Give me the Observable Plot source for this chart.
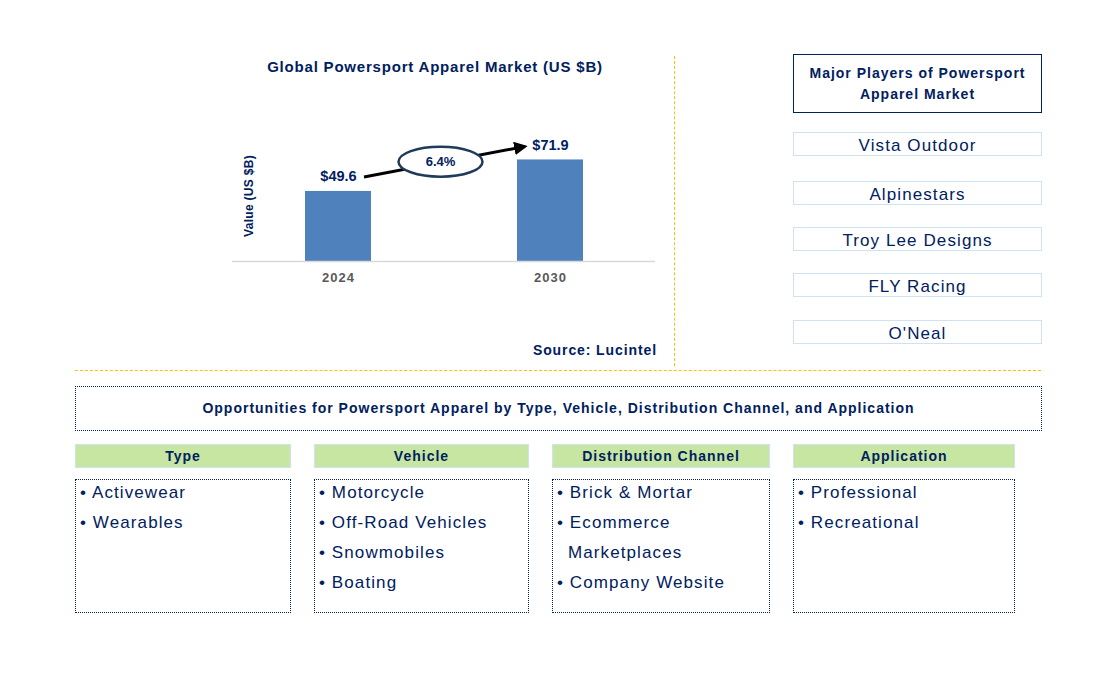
<!DOCTYPE html>
<html>
<head>
<meta charset="utf-8">
<script src="https://cdn.jsdelivr.net/npm/d3@7"></script>
<script src="https://cdn.jsdelivr.net/npm/@observablehq/plot@0.6"></script>
<style>
  html, body { margin:0; padding:0; background:#fff; }
  #wrap { position:relative; width:1106px; height:673px; overflow:hidden; font-family: Arial, "Liberation Sans", sans-serif; color:#002060; }
  .abs { position:absolute; box-sizing:border-box; }
  .title { left:200px; width:470px; top:57px; text-align:center; font-weight:bold; font-size:15px; line-height:20px; letter-spacing:0.8px; }
  .ylab { left:249px; top:196px; transform: translate(-50%,-50%) rotate(-90deg); font-weight:bold; font-size:12px; white-space:nowrap; letter-spacing:0.3px; }
  .source { left:450px; width:207px; top:341px; text-align:right; font-weight:bold; font-size:14px; line-height:18px; letter-spacing:0.9px; }
  .vsep { left:674px; top:56px; height:310px; width:0; border-left:1px dashed #ffc000; }
  .hsep { left:75px; top:370px; width:966px; height:0; border-top:1px dashed #ffc000; }
  .mp { left:793px; top:54px; width:249px; height:59px; border:1px solid #002060; text-align:center; font-weight:bold; font-size:14px; line-height:21px; padding-top:8px; letter-spacing:1px; }
  .player { left:793px; width:249px; height:24px; border:1px solid #cde3f3; text-align:center; font-size:17px; line-height:25px; letter-spacing:1.1px; }
  .opp { left:75px; top:386px; width:967px; height:45px; border:1px dotted #002060; text-align:center; font-weight:bold; font-size:14px; line-height:43px; letter-spacing:1px; }
  .hdr { top:444px; height:24px; background:#c6e6a2; border:1px solid #cde3f3; text-align:center; font-weight:bold; font-size:14px; line-height:22px; letter-spacing:1px; }
  .list { top:479px; height:134px; border:1px dotted #002060; padding:0 4px; font-size:17px; letter-spacing:1.1px; }
  .item { line-height:30px; padding-left:11px; text-indent:-11px; margin-top:0; }
  .list .inner { margin-top:-2px; }
  #chart { left:200px; top:100px; }
  #chart svg g[aria-label="x-axis tick label"] { font-weight:bold; fill:#595959; letter-spacing:1px; }
</style>
</head>
<body>
<div id="wrap"></div>
<script>
// ---- data ----
const years = ["2024", "2030"];
const values = [49.6, 71.9];
const cagr = "6.4%";
const chartTitle = "Global Powersport Apparel Market (US $B)";
const yLabel = "Value (US $B)";
const source = "Source: Lucintel";
const playersTitle = "Major Players of Powersport Apparel Market";
const players = ["Vista Outdoor", "Alpinestars", "Troy Lee Designs", "FLY Racing", "O'Neal"];
const oppTitle = "Opportunities for Powersport Apparel by Type, Vehicle, Distribution Channel, and Application";
const segments = ["Type", "Vehicle", "Distribution Channel", "Application"];
const typeItems = ["Activewear", "Wearables"];
const vehicleItems = ["Motorcycle", "Off-Road Vehicles", "Snowmobiles", "Boating"];
const channelItems = ["Brick & Mortar", "Ecommerce Marketplaces", "Company Website"];
const applicationItems = ["Professional", "Recreational"];

// ---- layout ----
const wrap = document.getElementById("wrap");
function add(cls, html, style) {
  const d = document.createElement("div");
  d.className = "abs " + cls;
  if (html != null) d.innerHTML = html;
  if (style) Object.assign(d.style, style);
  wrap.appendChild(d);
  return d;
}
add("title", chartTitle);
add("ylab", yLabel);
add("source", source);
add("vsep");
add("hsep");
add("mp", "Major Players of Powersport<br>Apparel Market");
const playerTops = [132, 181, 227, 273, 320];
players.forEach((p, i) => add("player", p, { top: playerTops[i] + "px" }));
add("opp", oppTitle);

const colLeft = [75, 314, 552, 793];
const colWidth = [216, 215, 218, 222];
const lists = [typeItems, vehicleItems, channelItems, applicationItems];
segments.forEach((s, i) => {
  add("hdr", s, { left: colLeft[i] + "px", width: colWidth[i] + "px" });
  const l = add("list", null, { left: colLeft[i] + "px", width: colWidth[i] + "px" });
  const inner = document.createElement("div");
  inner.className = "inner";
  lists[i].forEach(it => {
    const d = document.createElement("div");
    d.className = "item";
    d.style.maxWidth = "185px";
    d.textContent = "\u2022 " + it;
    inner.appendChild(d);
  });
  l.appendChild(inner);
});

// ---- chart ----
const data = years.map((y, i) => ({ year: y, value: values[i] }));
const plot = Plot.plot({
  width: 470,
  height: 200,
  marginLeft: 32,
  marginRight: 15,
  marginTop: 48,
  marginBottom: 39,
  style: { fontFamily: 'Arial, "Liberation Sans", sans-serif', background: "transparent", overflow: "visible" },
  x: { type: "band", domain: years, paddingInner: 0.689, paddingOuter: 0.342, align: 0.5, label: null },
  y: { domain: [0, 80], axis: null },
  marks: [
    Plot.barY(data, { x: "year", y: "value", fill: "#4f81bd" }),
    Plot.ruleY([0], { stroke: "#d9d9d9", strokeWidth: 1.5 }),
    Plot.text(data, { x: "year", y: "value", text: d => "$" + d.value.toFixed(1), dy: -15, fontWeight: "bold", fontSize: 14.5, fill: "#002060" }),
    Plot.axisX({ tickSize: 0, tickPadding: 11, fontSize: 13, color: "#595959", label: null })
  ]
});
const holder = add("", null, {});
holder.id = "chart";
holder.appendChild(plot);

// arrow + CAGR ellipse positioned from the plot's scales
const xs = plot.scale("x"), ys = plot.scale("y");
const bw = xs.bandwidth;
const cx0 = xs.apply(years[0]) + bw / 2, cx1 = xs.apply(years[1]) + bw / 2;
const x1 = cx0 + 26, y1 = ys.apply(values[0]) - 14;
const x2 = cx1 - 25, y2 = ys.apply(values[1]) - 13;
const svg = d3.select(plot);
const defs = svg.append("defs");
defs.append("marker").attr("id", "ah").attr("viewBox", "0 0 10 10").attr("refX", 8).attr("refY", 5)
  .attr("markerWidth", 4.5).attr("markerHeight", 4.5).attr("orient", "auto")
  .append("path").attr("d", "M0,0 L10,5 L0,10 z").attr("fill", "#000");
const g = svg.append("g");
g.append("line").attr("x1", x1).attr("y1", y1).attr("x2", x2).attr("y2", y2)
  .attr("stroke", "#000").attr("stroke-width", 3).attr("marker-end", "url(#ah)");
const mx = (x1 + x2) / 2 - 4, my = (y1 + y2) / 2;
g.append("ellipse").attr("cx", mx).attr("cy", my).attr("rx", 42).attr("ry", 15)
  .attr("fill", "#fff").attr("stroke", "#1f3a5a").attr("stroke-width", 2.5);
g.append("text").attr("x", mx).attr("y", my).attr("dy", "0.35em").attr("text-anchor", "middle")
  .attr("fill", "#002060").attr("font-size", 13).attr("font-weight", "bold").text(cagr);
</script>
</body>
</html>
